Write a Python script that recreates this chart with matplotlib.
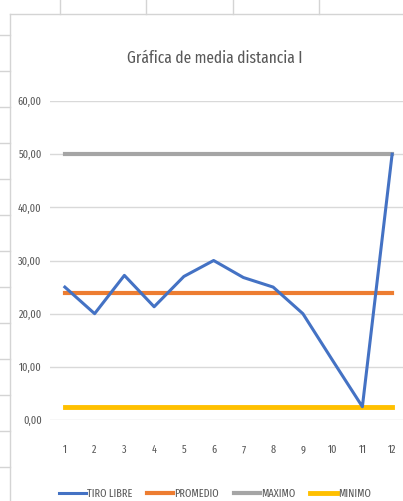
import matplotlib
matplotlib.use('Agg')
import matplotlib.pyplot as plt
from matplotlib.lines import Line2D

# data
categories = [str(i) for i in range(1, 13)]
tiro_libre = [25.0, 20.0, 27.2, 21.3, 27.0, 30.0, 26.8, 25.0, 20.0, 11.2, 2.5, 50.0]
promedio = [23.8] * 12
maximo = [50.0] * 12
minimo = [2.5] * 12
y_ticks = [0, 10, 20, 30, 40, 50, 60]
y_labels = ["0,00", "10,00", "20,00", "30,00", "40,00", "50,00", "60,00"]

W, H = 403, 501
plt.rcParams['font.family'] = ['Fira Sans Extra Condensed', 'DejaVu Sans']

fig = plt.figure(figsize=(W / 100, H / 100), dpi=100)
fig.patch.set_facecolor('white')

# spreadsheet behind the chart
sheet = '#D4D4D4'
for x in [60, 146, 233, 319]:
    fig.add_artist(Line2D([x / W, x / W], [1, 1 - 14 / H], color=sheet, lw=1))
for y in range(35, 501, 36):
    fig.add_artist(Line2D([0, 10 / W], [1 - y / H, 1 - y / H], color=sheet, lw=1))
fig.add_artist(Line2D([10 / W, 1], [1 - 14 / H, 1 - 14 / H], color=sheet, lw=1))
fig.add_artist(Line2D([10 / W, 10 / W], [1 - 14 / H, 0], color=sheet, lw=1))

# plot area: x 50..407 px, y 101..420 px
ax = fig.add_axes([50 / W, 1 - 420 / H, 357 / W, 319 / H])
x = list(range(1, 13))
ax.plot(x, tiro_libre, color='#4472C4', lw=2.2, label='TIRO LIBRE', zorder=4)
ax.plot(x, promedio, color='#ED7D31', lw=3, label='PROMEDIO', zorder=3)
ax.plot(x, maximo, color='#A5A5A5', lw=3, label='MAXIMO', zorder=3)
ax.plot(x, minimo, color='#FFC000', lw=3.5, label='MINIMO', zorder=3)

ax.set_xlim(0.5, 12.5)
ax.set_ylim(0, 60)
ax.set_yticks(y_ticks)
ax.set_yticklabels(y_labels)
ax.set_xticks(x)
ax.set_xticklabels(categories)
ax.grid(axis='y', color='#D9D9D9', lw=1)
ax.set_axisbelow(True)
for s in ax.spines.values():
    s.set_visible(False)
ax.tick_params(axis='both', length=0, labelsize=8, colors='#595959')
ax.tick_params(axis='y', pad=6)
ax.tick_params(axis='x', pad=18)

fig.text(215 / W, 1 - 63 / H, 'Gráfica de media distancia I', ha='center', va='baseline',
         fontsize=12, color='#595959')

fig.legend(loc='center', bbox_to_anchor=(215 / W, 1 - 494 / H), ncol=4, frameon=False,
           fontsize=8, handlelength=2.4, columnspacing=1.3, handletextpad=0.1,
           labelcolor='#595959')

fig.savefig('out.png', dpi=100)
